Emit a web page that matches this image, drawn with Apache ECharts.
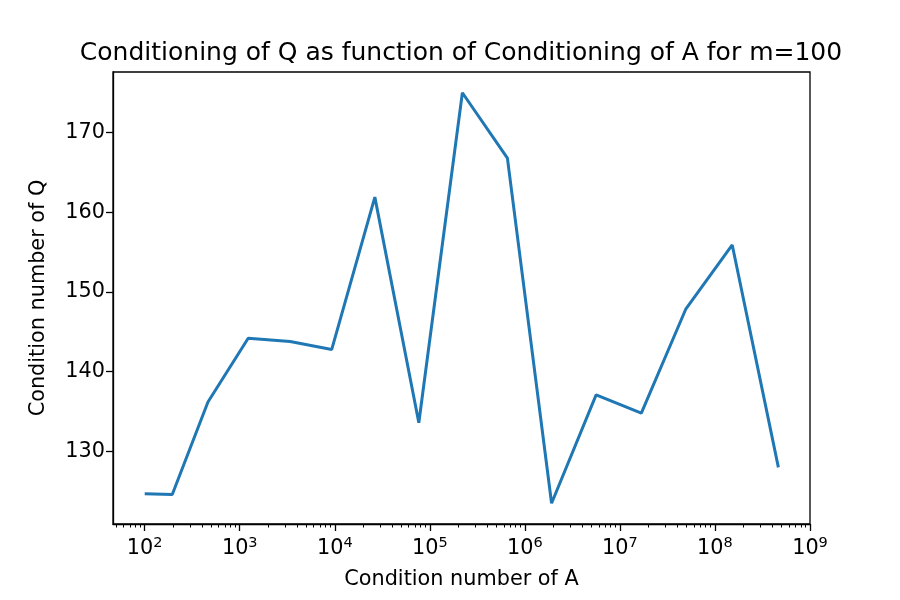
<!DOCTYPE html>
<html>
<head>
<meta charset="utf-8">
<script src="https://cdn.jsdelivr.net/npm/echarts@6/dist/echarts.min.js"></script>
<style>
  html, body { margin: 0; padding: 0; background: #fff; }
  #main { width: 900px; height: 600px; }
</style>
</head>
<body>
<div id="main"></div>
<script>
// condition number of A (x, log scale)
var condA = [100, 195, 463, 1227, 3390, 9290, 26400, 76600,
             220000, 655000, 1910000, 5620000, 16800000, 49500000, 152000000, 465000000];
// condition number of Q (y)
var condQ = [124.7, 124.6, 136.2, 144.2, 143.8, 142.8, 161.9, 133.6,
             175.0, 166.8, 123.5, 137.1, 134.8, 147.9, 155.9, 128.0];
// major tick values on the x axis, with their exponents for the labels
var xMajorTicks = [1e2, 1e3, 1e4, 1e5, 1e6, 1e7, 1e8, 1e9];
var xMajorExp = [2, 3, 4, 5, 6, 7, 8, 9];
var yTicks = [130, 140, 150, 160, 170];

var xMin = 46.4, xMax = 1e9;
var yMin = 120.9, yMax = 177.6;

// minor ticks at 2..9 x 10^n (like matplotlib log axis)
var xMinorTicks = [];
for (var e = 1; e < 9; e++) {
  for (var m = 2; m <= 9; m++) {
    var v = m * Math.pow(10, e);
    if (v > xMin && v < xMax) xMinorTicks.push(v);
  }
}

var points = [];
for (var i = 0; i < condA.length; i++) {
  points.push([condA[i], condQ[i]]);
}

var font = 'DejaVu Sans';
var chart = echarts.init(document.getElementById('main'));
chart.setOption({
  animation: false,
  backgroundColor: '#fff',
  title: {
    text: 'Conditioning of Q as function of Conditioning of A for m=100',
    left: 456,
    top: 36,
    textAlign: 'center',
    textStyle: { fontFamily: font, fontSize: 25, fontWeight: 'normal', color: '#000' }
  },
  grid: {
    left: 113, right: 90, top: 72, bottom: 76,
    show: true, borderColor: '#000', borderWidth: 1.3, backgroundColor: '#fff',
    containLabel: false
  },
  xAxis: [{
    type: 'log',
    logBase: 10,
    min: xMin,
    max: xMax,
    name: 'Condition number of A',
    nameLocation: 'middle',
    nameGap: 45,
    nameTextStyle: { fontFamily: font, fontSize: 20.8, color: '#000' },
    axisLine: { show: true, onZero: false, lineStyle: { color: '#000', width: 1.3 } },
    axisTick: { show: true, inside: false, length: 7, customValues: xMajorTicks,
                lineStyle: { color: '#000', width: 1.3 } },
    axisLabel: {
      customValues: xMajorTicks,
      margin: 12,
      formatter: function (val) {
        var k = xMajorTicks.indexOf(val);
        var ex = k >= 0 ? xMajorExp[k] : Math.round(Math.log10(val));
        return '{b|10}{s|' + ex + '}';
      },
      rich: {
        b: { fontFamily: font, fontSize: 20.8, color: '#000', verticalAlign: 'bottom' },
        s: { fontFamily: font, fontSize: 14.5, color: '#000', verticalAlign: 'top', padding: [0, 0, 8, 0] }
      }
    },
    splitLine: { show: false },
    minorTick: { show: false }
  }, {
    type: 'log',
    logBase: 10,
    min: xMin,
    max: xMax,
    position: 'bottom',
    axisLine: { show: false },
    axisTick: { show: true, inside: false, length: 3.5, customValues: xMinorTicks,
                lineStyle: { color: '#000', width: 1 } },
    axisLabel: { show: false },
    splitLine: { show: false }
  }],
  yAxis: {
    type: 'value',
    min: yMin,
    max: yMax,
    name: 'Condition number of Q',
    nameLocation: 'middle',
    nameGap: 64,
    nameTextStyle: { fontFamily: font, fontSize: 20.8, color: '#000' },
    axisLine: { show: true, lineStyle: { color: '#000', width: 1.3 } },
    axisTick: { show: true, inside: false, length: 7, customValues: yTicks,
                lineStyle: { color: '#000', width: 1.3 } },
    axisLabel: { customValues: yTicks, margin: 8, fontFamily: font, fontSize: 20.8, color: '#000' },
    splitLine: { show: false }
  },
  series: [{
    type: 'line',
    xAxisIndex: 0,
    data: points,
    showSymbol: false,
    symbol: 'none',
    lineStyle: { color: '#1f77b4', width: 3 },
    itemStyle: { color: '#1f77b4' }
  }]
});
</script>
</body>
</html>
